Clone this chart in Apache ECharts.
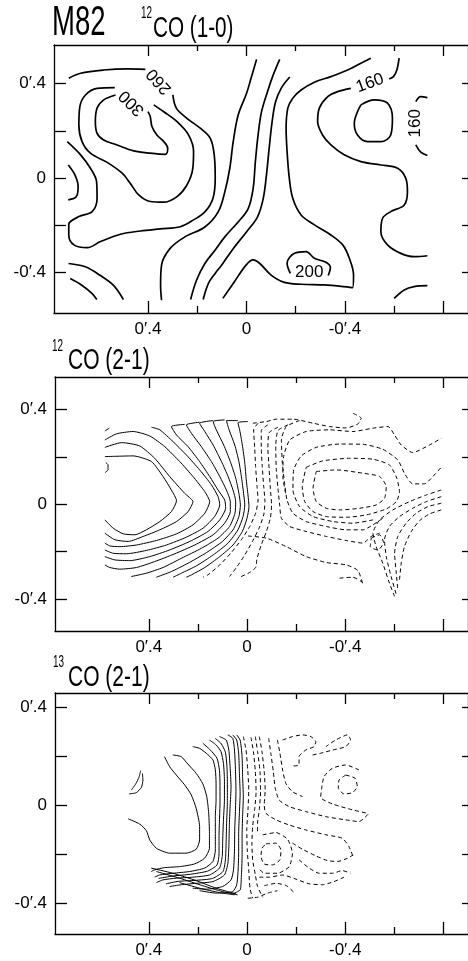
<!DOCTYPE html>
<html><head><meta charset="utf-8">
<style>html,body{margin:0;padding:0;background:#fff}#c{width:468px;height:961px}</style>
<script src="https://cdn.jsdelivr.net/npm/echarts@6/dist/echarts.min.js"></script>
</head><body><div id="c"></div>
<script>
// ---------- axis ticks / labels (arcmin offsets) ----------
const xMajorTicks = [0.4, 0, -0.4, -0.8];
const xMinorTicks = [0.2, -0.2, -0.6];
const xTickLabels = [0.4, 0, -0.4];
const yTicks = [-0.4, -0.2, 0, 0.2, 0.4];
const yTickLabels = [-0.4, 0, 0.4];
const xExtent = [-0.9, 0.782];
const yExtent1 = [-0.573, 0.564];
const yExtent2 = [-0.535, 0.537];
const yExtent3 = [-0.527, 0.457];

// ---------- panel 1: 12CO (1-0) contours ----------
const p1_c260a = [[0.722,0.423],[0.674,0.444],[0.580,0.458],[0.485,0.463],[0.411,0.461]];
const p1_c260b = [[0.299,0.352],[0.285,0.296],[0.242,0.253],[0.188,0.211],[0.147,0.168],[0.131,0.098],[0.127,-0.001],[0.136,-0.086],[0.168,-0.143],[0.215,-0.178],[0.269,-0.207],[0.350,-0.216],[0.431,-0.225],[0.512,-0.239],[0.593,-0.270],[0.647,-0.296],[0.701,-0.284],[0.722,-0.242],[0.722,-0.197],[0.681,-0.164],[0.627,-0.143],[0.607,-0.086],[0.609,-0.016],[0.634,0.041],[0.674,0.098],[0.728,0.154]];
const p1_c280 = [[0.377,0.310],[0.336,0.281],[0.282,0.239],[0.235,0.182],[0.215,0.112],[0.218,0.041],[0.242,-0.030],[0.282,-0.079],[0.336,-0.103],[0.391,-0.100],[0.438,-0.072],[0.472,-0.023],[0.505,0.020],[0.566,0.066],[0.634,0.105],[0.668,0.154],[0.681,0.225],[0.677,0.303],[0.654,0.352],[0.607,0.380],[0.535,0.383]];
const p1_c300 = [[0.400,0.281],[0.391,0.260],[0.384,0.218],[0.364,0.182],[0.336,0.154],[0.320,0.126],[0.330,0.100],[0.391,0.105],[0.458,0.115],[0.526,0.140],[0.580,0.161],[0.607,0.189],[0.614,0.239],[0.607,0.296],[0.580,0.331],[0.532,0.352]];
const p1_arcLeft = [[0.724,0.055],[0.697,0.013],[0.684,-0.037],[0.691,-0.079],[0.724,-0.093]];
const p1_v1 = [[0.345,-0.519],[0.349,-0.455],[0.345,-0.370],[0.311,-0.300],[0.250,-0.250],[0.169,-0.208],[0.115,-0.144],[0.088,-0.059],[0.068,0.040],[0.054,0.153],[0.034,0.266],[0.000,0.358],[-0.020,0.428],[-0.041,0.503]];
const p1_v2 = [[0.227,-0.516],[0.203,-0.434],[0.169,-0.363],[0.128,-0.307],[0.088,-0.250],[0.034,-0.187],[-0.007,-0.130],[-0.027,-0.045],[-0.036,0.068],[-0.047,0.181],[-0.061,0.280],[-0.085,0.365],[-0.108,0.435],[-0.135,0.503]];
const p1_v3 = [[0.176,-0.516],[0.155,-0.448],[0.128,-0.406],[0.101,-0.370],[0.054,-0.300],[0.000,-0.229],[-0.045,-0.165],[-0.068,-0.088],[-0.081,0.011],[-0.092,0.124],[-0.104,0.237],[-0.118,0.322],[-0.142,0.382],[-0.176,0.428]];
const p1_v4 = [[0.096,-0.511],[0.049,-0.440],[0.001,-0.369],[-0.026,-0.348],[-0.053,-0.362],[-0.100,-0.412],[-0.154,-0.443],[-0.222,-0.451],[-0.316,-0.454],[-0.431,-0.465],[-0.435,-0.412],[-0.418,-0.341],[-0.391,-0.284],[-0.343,-0.242],[-0.276,-0.199],[-0.222,-0.157],[-0.188,-0.086],[-0.174,-0.001],[-0.165,0.112],[-0.161,0.211],[-0.168,0.296],[-0.188,0.338],[-0.222,0.373],[-0.276,0.406],[-0.343,0.430],[-0.411,0.458],[-0.465,0.487],[-0.505,0.508]];
const p1_c200 = [[-0.178,-0.405],[-0.165,-0.362],[-0.195,-0.320],[-0.242,-0.313],[-0.276,-0.341],[-0.323,-0.358],[-0.341,-0.380],[-0.332,-0.414]];
const p1_c160top = [[-0.620,0.508],[-0.611,0.458],[-0.597,0.430],[-0.580,0.420]];
const p1_c160 = [[-0.424,0.380],[-0.370,0.366],[-0.330,0.345],[-0.296,0.296],[-0.289,0.239],[-0.309,0.182],[-0.343,0.140],[-0.397,0.098],[-0.465,0.069],[-0.546,0.055],[-0.614,0.041],[-0.647,-0.001],[-0.654,-0.058],[-0.641,-0.115],[-0.586,-0.143],[-0.553,-0.171],[-0.546,-0.228],[-0.573,-0.284],[-0.627,-0.320],[-0.681,-0.334],[-0.735,-0.330]];
const p1_loopRight = [[-0.465,0.310],[-0.519,0.331],[-0.573,0.317],[-0.593,0.253],[-0.586,0.182],[-0.546,0.154],[-0.492,0.154],[-0.451,0.182],[-0.438,0.232],[-0.451,0.281],[-0.465,0.310]];
const p1_arcRightTop = [[-0.735,0.341],[-0.708,0.345],[-0.688,0.324]];
const p1_arcRightBot = [[-0.688,0.140],[-0.708,0.109],[-0.735,0.095]];
const p1_cornerBR = [[-0.600,-0.511],[-0.641,-0.475],[-0.681,-0.461],[-0.735,-0.457]];
const p1_cornerBL1 = [[0.723,-0.363],[0.655,-0.377],[0.595,-0.413],[0.541,-0.455],[0.500,-0.516]];
const p1_cornerBL2 = [[0.716,-0.427],[0.669,-0.455],[0.628,-0.490],[0.608,-0.516]];
const p1_labelPos = [[0.355,0.410],[0.466,0.318],[-0.502,0.402],[-0.686,0.232],[-0.255,-0.402]];
const p1_labelText = ['260', '300', '160', '160', '200'];

// ---------- panel 2: 12CO (2-1) contours ----------
const p2_s0top = [[0.579,0.309],[0.561,0.321]];
const p2_s0 = [[0.575,0.176],[0.566,0.166],[0.566,0.145],[0.578,0.134]];
const p2_s1 = [[0.579,0.201],[0.464,0.204],[0.389,0.180],[0.342,0.117],[0.308,0.060],[0.287,0.015],[0.308,-0.031],[0.355,-0.073],[0.410,-0.108],[0.457,-0.129],[0.504,-0.125],[0.545,-0.101],[0.579,-0.066]];
const p2_s2 = [[0.579,0.240],[0.511,0.260],[0.437,0.246],[0.376,0.194],[0.315,0.117],[0.254,0.046],[0.220,0.011],[0.240,-0.031],[0.287,-0.073],[0.355,-0.108],[0.423,-0.136],[0.484,-0.157],[0.538,-0.150],[0.579,-0.122]];
const p2_s3 = [[0.579,0.271],[0.532,0.297],[0.464,0.307],[0.396,0.288],[0.335,0.243],[0.274,0.180],[0.220,0.117],[0.172,0.053],[0.152,0.011],[0.172,-0.038],[0.220,-0.087],[0.287,-0.125],[0.369,-0.153],[0.450,-0.172],[0.518,-0.179],[0.559,-0.176],[0.579,-0.164]];
const p2_s4 = [[0.389,0.325],[0.355,0.314],[0.301,0.264],[0.247,0.208],[0.193,0.145],[0.145,0.082],[0.118,0.032],[0.111,-0.003],[0.132,-0.052],[0.179,-0.101],[0.247,-0.139],[0.328,-0.172],[0.410,-0.195],[0.491,-0.209],[0.545,-0.207],[0.579,-0.193]];
const p2_s5 = [[0.254,0.337],[0.308,0.328],[0.287,0.292],[0.240,0.243],[0.193,0.180],[0.152,0.117],[0.118,0.060],[0.091,0.018],[0.087,-0.017],[0.111,-0.066],[0.159,-0.115],[0.233,-0.157],[0.315,-0.193],[0.396,-0.221],[0.477,-0.238],[0.538,-0.235],[0.579,-0.221]];
const p2_s6 = [[0.193,0.346],[0.247,0.335],[0.226,0.299],[0.186,0.243],[0.145,0.180],[0.111,0.117],[0.084,0.060],[0.068,0.011],[0.068,-0.031],[0.091,-0.080],[0.138,-0.129],[0.213,-0.172],[0.294,-0.209],[0.376,-0.242],[0.450,-0.267],[0.518,-0.274],[0.559,-0.267],[0.579,-0.256]];
const p2_s7 = [[0.138,0.353],[0.193,0.342],[0.172,0.307],[0.138,0.250],[0.104,0.180],[0.077,0.117],[0.057,0.060],[0.046,0.011],[0.049,-0.038],[0.071,-0.094],[0.118,-0.143],[0.186,-0.186],[0.267,-0.228],[0.342,-0.267],[0.410,-0.291],[0.471,-0.305]];
const p2_s8 = [[0.091,0.356],[0.138,0.349],[0.125,0.314],[0.095,0.250],[0.068,0.180],[0.046,0.110],[0.033,0.046],[0.027,-0.003],[0.033,-0.052],[0.057,-0.108],[0.100,-0.157],[0.165,-0.204],[0.240,-0.249],[0.308,-0.284],[0.369,-0.308]];
const p2_s9 = [[0.037,0.353],[0.084,0.353],[0.073,0.314],[0.050,0.250],[0.033,0.180],[0.022,0.110],[0.014,0.046],[0.009,-0.003],[0.016,-0.052],[0.037,-0.108],[0.077,-0.164],[0.138,-0.214],[0.206,-0.260],[0.267,-0.291],[0.301,-0.308]];
const p2_s10 = [[-0.004,0.349],[0.037,0.344],[0.030,0.314],[0.019,0.250],[0.009,0.173],[0.003,0.103],[-0.004,0.039],[-0.008,-0.010],[0.000,-0.059],[0.019,-0.115],[0.057,-0.172],[0.111,-0.221],[0.172,-0.267],[0.226,-0.298],[0.247,-0.308]];
const p2_a1 = [[-0.045,0.342],[-0.027,0.314],[-0.031,0.243],[-0.035,0.159],[-0.041,0.075],[-0.045,0.018],[-0.035,-0.038],[-0.011,-0.094],[0.023,-0.150],[0.064,-0.204],[0.111,-0.256],[0.159,-0.298],[0.179,-0.308]];
const p2_a2 = [[-0.085,0.335],[-0.058,0.311],[-0.058,0.243],[-0.062,0.159],[-0.068,0.075],[-0.073,0.011],[-0.068,-0.045],[-0.049,-0.101],[-0.022,-0.157],[0.009,-0.214],[0.043,-0.267],[0.071,-0.305]];
const p2_a3 = [[-0.126,0.325],[-0.090,0.302],[-0.085,0.236],[-0.090,0.152],[-0.095,0.067],[-0.100,-0.003],[-0.095,-0.059],[-0.079,-0.115],[-0.058,-0.172],[-0.041,-0.228],[-0.035,-0.267],[-0.011,-0.288],[0.030,-0.308]];
const p2_a4 = [[-0.167,0.335],[-0.126,0.311],[-0.117,0.243],[-0.119,0.152],[-0.126,0.067],[-0.133,-0.003],[-0.140,-0.059],[-0.174,-0.094],[-0.241,-0.115],[-0.323,-0.136],[-0.404,-0.153],[-0.472,-0.164],[-0.506,-0.136],[-0.540,-0.122]];
const p2_a5 = [[-0.214,0.353],[-0.160,0.328],[-0.140,0.271],[-0.144,0.173],[-0.153,0.089],[-0.163,0.018],[-0.187,-0.038],[-0.241,-0.073],[-0.323,-0.094],[-0.404,-0.108],[-0.472,-0.108],[-0.513,-0.087],[-0.553,-0.059]];
const p2_m1 = [[-0.004,-0.134],[-0.079,-0.143],[-0.160,-0.179],[-0.241,-0.221],[-0.323,-0.246],[-0.404,-0.256],[-0.452,-0.280],[-0.472,-0.340]];
const p2_m0 = [[-0.377,-0.312],[-0.431,-0.308],[-0.472,-0.330]];
const p2_t1 = [[-0.024,0.342],[-0.079,0.349],[-0.119,0.359],[-0.187,0.359],[-0.269,0.342],[-0.336,0.328],[-0.404,0.322],[-0.452,0.339],[-0.465,0.363],[-0.431,0.384]];
const p2_r4 = [[-0.157,0.046],[-0.146,0.117],[-0.149,0.201],[-0.174,0.271],[-0.241,0.307],[-0.336,0.314],[-0.431,0.307],[-0.513,0.321],[-0.574,0.328],[-0.601,0.292],[-0.628,0.250],[-0.675,0.218],[-0.743,0.250],[-0.791,0.278]];
const p2_r3 = [[-0.513,-0.066],[-0.431,-0.080],[-0.350,-0.073],[-0.269,-0.052],[-0.214,-0.010],[-0.187,0.060],[-0.190,0.145],[-0.221,0.204],[-0.282,0.240],[-0.377,0.254],[-0.472,0.253],[-0.553,0.232],[-0.614,0.187],[-0.641,0.131],[-0.675,0.086],[-0.723,0.086],[-0.757,0.117],[-0.791,0.156]];
const p2_r2 = [[-0.241,0.156],[-0.309,0.183],[-0.418,0.194],[-0.513,0.190],[-0.580,0.166],[-0.610,0.110],[-0.621,0.053],[-0.608,0.011],[-0.567,-0.020],[-0.486,-0.045],[-0.404,-0.055],[-0.323,-0.052],[-0.269,-0.031],[-0.235,0.011],[-0.225,0.075],[-0.241,0.156]];
const p2_r1 = [[-0.282,0.138],[-0.363,0.145],[-0.472,0.131],[-0.540,0.117],[-0.567,0.075],[-0.560,0.025],[-0.526,-0.003],[-0.458,-0.017],[-0.377,-0.024],[-0.323,-0.017],[-0.282,0.011],[-0.269,0.067],[-0.282,0.138]];
const p2_lr1 = [[-0.791,0.060],[-0.730,0.039],[-0.662,0.011],[-0.594,-0.024],[-0.540,-0.066],[-0.513,-0.122],[-0.526,-0.179],[-0.553,-0.249],[-0.580,-0.333],[-0.601,-0.389]];
const p2_lr2 = [[-0.791,0.032],[-0.730,0.011],[-0.675,-0.017],[-0.621,-0.052],[-0.580,-0.094],[-0.560,-0.150],[-0.567,-0.221],[-0.587,-0.305],[-0.608,-0.382]];
const p2_lr3 = [[-0.791,0.004],[-0.737,-0.010],[-0.689,-0.038],[-0.648,-0.080],[-0.614,-0.136],[-0.601,-0.207],[-0.608,-0.291],[-0.614,-0.361]];
const p2_lr4 = [[-0.791,-0.024],[-0.743,-0.041],[-0.703,-0.069],[-0.669,-0.115],[-0.641,-0.179],[-0.628,-0.249],[-0.621,-0.319]];
const p2_lr6 = [[-0.506,-0.143],[-0.540,-0.129],[-0.556,-0.162],[-0.533,-0.193],[-0.502,-0.179],[-0.506,-0.143]];

// ---------- panel 3: 13CO (2-1) contours ----------
const p3_bra = [[0.471,0.061],[0.453,0.086],[0.440,0.113],[0.433,0.140]];
const p3_brb = [[0.480,0.045],[0.451,0.050],[0.430,0.072],[0.424,0.102],[0.426,0.129]];
const p3_l1 = [[0.484,-0.057],[0.437,-0.078],[0.410,-0.105],[0.396,-0.143],[0.369,-0.177],[0.315,-0.197],[0.248,-0.197],[0.207,-0.181],[0.193,-0.143],[0.193,-0.088],[0.207,-0.014],[0.227,0.041],[0.254,0.082],[0.288,0.122],[0.315,0.156],[0.336,0.197]];
const p3_l2 = [[0.302,0.204],[0.268,0.197],[0.241,0.167],[0.207,0.129],[0.180,0.086],[0.164,0.034],[0.156,-0.034],[0.153,-0.116],[0.153,-0.177],[0.173,-0.218],[0.214,-0.241],[0.275,-0.252],[0.336,-0.256],[0.376,-0.265],[0.390,-0.272]];
const p3_l3 = [[0.221,0.238],[0.193,0.231],[0.166,0.211],[0.139,0.184],[0.129,0.143],[0.126,0.088],[0.126,0.020],[0.129,-0.048],[0.129,-0.116],[0.129,-0.184],[0.139,-0.231],[0.173,-0.258],[0.234,-0.272],[0.302,-0.279],[0.356,-0.286],[0.376,-0.295]];
const p3_l3b = [[0.180,0.252],[0.150,0.225],[0.122,0.190],[0.112,0.140],[0.110,0.080],[0.110,0.010],[0.112,-0.060],[0.114,-0.130],[0.114,-0.200],[0.122,-0.245],[0.160,-0.270],[0.230,-0.283],[0.300,-0.290],[0.360,-0.300]];
const p3_l4 = [[0.153,0.265],[0.126,0.245],[0.106,0.218],[0.096,0.170],[0.092,0.102],[0.092,0.020],[0.096,-0.061],[0.099,-0.143],[0.101,-0.211],[0.112,-0.258],[0.153,-0.286],[0.221,-0.295],[0.288,-0.299],[0.342,-0.306],[0.369,-0.317]];
const p3_l4b = [[0.130,0.272],[0.105,0.250],[0.088,0.215],[0.082,0.160],[0.080,0.090],[0.080,0.010],[0.083,-0.070],[0.085,-0.150],[0.088,-0.225],[0.098,-0.272],[0.140,-0.300],[0.210,-0.308],[0.280,-0.312],[0.330,-0.322]];
const p3_l5 = [[0.112,0.279],[0.085,0.265],[0.074,0.224],[0.069,0.156],[0.065,0.075],[0.069,-0.007],[0.072,-0.088],[0.074,-0.170],[0.078,-0.238],[0.092,-0.286],[0.139,-0.313],[0.207,-0.320],[0.268,-0.326],[0.315,-0.333]];
const p3_l6 = [[0.078,0.286],[0.058,0.272],[0.051,0.224],[0.047,0.143],[0.045,0.061],[0.047,-0.020],[0.050,-0.102],[0.051,-0.184],[0.055,-0.265],[0.065,-0.306],[0.099,-0.333],[0.166,-0.344],[0.221,-0.340]];
const p3_l7 = [[0.058,0.286],[0.042,0.265],[0.034,0.211],[0.031,0.129],[0.028,0.048],[0.031,-0.034],[0.034,-0.116],[0.034,-0.197],[0.037,-0.279],[0.042,-0.326],[0.058,-0.354],[0.126,-0.360],[0.193,-0.350]];
const p3_l8 = [[0.042,0.286],[0.028,0.265],[0.020,0.197],[0.018,0.116],[0.015,0.034],[0.018,-0.048],[0.020,-0.129],[0.020,-0.211],[0.023,-0.292],[0.028,-0.347],[0.058,-0.363]];
const p3_b1 = [[0.275,-0.317],[0.193,-0.340],[0.112,-0.358],[0.051,-0.367]];
const p3_b2 = [[0.390,-0.258],[0.302,-0.279],[0.207,-0.309],[0.126,-0.340],[0.045,-0.363]];
const p3_b3 = [[0.369,-0.272],[0.275,-0.299],[0.180,-0.330],[0.099,-0.354],[0.038,-0.367]];
const p3_q1 = [[0.015,0.279],[0.004,0.224],[-0.003,0.143],[-0.007,0.061],[-0.004,-0.020],[0.001,-0.102],[-0.001,-0.184],[-0.007,-0.265],[-0.012,-0.340],[-0.023,-0.381]];
const p3_q2 = [[-0.016,0.276],[-0.026,0.218],[-0.034,0.136],[-0.037,0.054],[-0.031,-0.020],[-0.023,-0.088],[-0.020,-0.156],[-0.023,-0.224],[-0.034,-0.286],[-0.043,-0.333],[-0.064,-0.377]];
const p3_q2b = [[-0.034,0.279],[-0.043,0.218],[-0.053,0.136],[-0.055,0.054],[-0.050,-0.020],[-0.043,-0.075],[-0.043,-0.116]];
const p3_q3 = [[-0.050,0.279],[-0.061,0.218],[-0.070,0.136],[-0.074,0.061],[-0.070,0.000],[-0.077,-0.034],[-0.118,-0.061],[-0.172,-0.082],[-0.239,-0.102],[-0.321,-0.122],[-0.388,-0.136],[-0.415,-0.170],[-0.432,-0.211]];
const p3_q4 = [[-0.088,0.272],[-0.097,0.211],[-0.107,0.136],[-0.115,0.068],[-0.131,0.020],[-0.172,-0.007],[-0.239,-0.027],[-0.321,-0.048],[-0.402,-0.061],[-0.456,-0.068],[-0.497,-0.034]];
const p3_q5 = [[-0.124,0.265],[-0.134,0.211],[-0.145,0.143],[-0.158,0.088],[-0.185,0.054],[-0.226,0.034]];
const p3_q6 = [[-0.145,0.265],[-0.185,0.279],[-0.226,0.286],[-0.260,0.279],[-0.280,0.258],[-0.273,0.238],[-0.239,0.224],[-0.212,0.197],[-0.212,0.163],[-0.185,0.159]];
const p3_q7 = [[-0.267,0.204],[-0.300,0.211],[-0.348,0.224],[-0.402,0.238],[-0.422,0.265],[-0.409,0.286],[-0.361,0.265],[-0.321,0.238]];
const p3_rOuter = [[-0.456,0.143],[-0.402,0.163],[-0.348,0.150],[-0.314,0.116],[-0.304,0.068],[-0.300,0.031],[-0.348,0.004],[-0.429,-0.020],[-0.490,-0.034]];
const p3_rInner = [[-0.402,0.122],[-0.440,0.109],[-0.449,0.075],[-0.429,0.050],[-0.395,0.045],[-0.372,0.068],[-0.375,0.102],[-0.402,0.122]];
const p3_ll1 = [[-0.077,-0.159],[-0.118,-0.156],[-0.138,-0.184],[-0.134,-0.224],[-0.104,-0.245],[-0.070,-0.241],[-0.057,-0.211],[-0.061,-0.177],[-0.077,-0.159]];
const p3_ll2 = [[-0.064,-0.122],[-0.118,-0.113],[-0.165,-0.140],[-0.185,-0.197],[-0.172,-0.252],[-0.124,-0.279],[-0.070,-0.279],[-0.047,-0.258]];
const p3_ma = [[-0.185,-0.156],[-0.226,-0.181],[-0.280,-0.208],[-0.327,-0.227],[-0.368,-0.231],[-0.409,-0.218],[-0.432,-0.204]];
const p3_mb = [[-0.212,-0.224],[-0.253,-0.258],[-0.294,-0.279],[-0.348,-0.279],[-0.388,-0.268],[-0.422,-0.279]];
const p3_mc = [[-0.050,-0.295],[-0.091,-0.295],[-0.145,-0.286],[-0.199,-0.303],[-0.253,-0.322],[-0.307,-0.326],[-0.354,-0.313],[-0.395,-0.295]];
const p3_md = [[-0.070,-0.330],[-0.118,-0.320],[-0.161,-0.330],[-0.192,-0.358]];
const p3_me = [[-0.003,-0.381],[-0.043,-0.377],[-0.084,-0.360],[-0.124,-0.350]];

// ---------- groups ----------
const panel1Lines = [p1_c260a,p1_c260b,p1_c280,p1_c300,p1_arcLeft,p1_v1,p1_v2,p1_v3,p1_v4,p1_c200,p1_c160top,p1_c160,p1_loopRight,p1_arcRightTop,p1_arcRightBot,p1_cornerBR,p1_cornerBL1,p1_cornerBL2];
const panel2Solid = [p2_s0top,p2_s0,p2_s1,p2_s2,p2_s3,p2_s4,p2_s5,p2_s6,p2_s7,p2_s8,p2_s9,p2_s10];
const panel2Dashed = [p2_a1,p2_a2,p2_a3,p2_a4,p2_a5,p2_m1,p2_m0,p2_t1,p2_r4,p2_r3,p2_r2,p2_r1,p2_lr1,p2_lr2,p2_lr3,p2_lr4,p2_lr6];
const panel3Solid = [p3_bra,p3_brb,p3_l1,p3_l2,p3_l3,p3_l3b,p3_l4,p3_l4b,p3_l5,p3_l6,p3_l7,p3_l8,p3_b1,p3_b2,p3_b3];
const panel3Dashed = [p3_q1,p3_q2,p3_q2b,p3_q3,p3_q4,p3_q5,p3_q6,p3_q7,p3_rOuter,p3_rInner,p3_ll1,p3_ll2,p3_ma,p3_mb,p3_mc,p3_md,p3_me];

// ---------- chart ----------
const FONT = "'Liberation Sans Narrow', 'Liberation Sans', Arial, sans-serif";
const TFONT = '"Liberation Sans", Arial, sans-serif';
const AXC = {color: '#000', width: 1.3};
const labelRotations = [132, 135, 20, 90, 0];

function fmt(v) {
  if (Math.abs(v) < 1e-9) return '0';
  return (v < 0 ? '-' : '') + '0\u2032.' + Math.round(Math.abs(v) * 10);
}

const grids = [
  {left: 54, top: 45, width: 415, height: 268},
  {left: 55, top: 377, width: 414, height: 254},
  {left: 55, top: 693, width: 414, height: 241}
];
const yExtents = [yExtent1, yExtent2, yExtent3];
const xAxes = [], yAxes = [];
grids.forEach((g, i) => {
  const base = {gridIndex: i, type: 'value', min: xExtent[0], max: xExtent[1], inverse: true, splitLine: {show: false}};
  xAxes.push(Object.assign({}, base, {position: 'bottom',
    axisLine: {show: true, onZero: false, lineStyle: AXC},
    axisTick: {show: true, inside: true, length: 12, customValues: xMajorTicks, lineStyle: AXC},
    axisLabel: {show: true, customValues: xTickLabels, formatter: fmt, margin: 8, fontSize: 17, fontFamily: FONT, color: '#000'}}));
  xAxes.push(Object.assign({}, base, {position: 'bottom',
    axisLine: {show: false, onZero: false},
    axisTick: {show: true, inside: true, length: 7, customValues: xMinorTicks, lineStyle: AXC},
    axisLabel: {show: false}}));
  xAxes.push(Object.assign({}, base, {position: 'top',
    axisLine: {show: true, onZero: false, lineStyle: AXC},
    axisTick: {show: true, inside: true, length: 11, customValues: xMajorTicks, lineStyle: AXC},
    axisLabel: {show: false}}));
  xAxes.push(Object.assign({}, base, {position: 'top',
    axisLine: {show: false, onZero: false},
    axisTick: {show: true, inside: true, length: 6, customValues: xMinorTicks, lineStyle: AXC},
    axisLabel: {show: false}}));
  const yb = {gridIndex: i, type: 'value', min: yExtents[i][0], max: yExtents[i][1], splitLine: {show: false}};
  yAxes.push(Object.assign({}, yb, {position: 'left',
    axisLine: {show: true, onZero: false, lineStyle: AXC},
    axisTick: {show: true, inside: true, length: 12, customValues: yTicks, lineStyle: AXC},
    axisLabel: {show: true, customValues: yTickLabels, formatter: fmt, margin: 8, fontSize: 17, fontFamily: FONT, color: '#000'}}));
  yAxes.push(Object.assign({}, yb, {position: 'right',
    axisLine: {show: true, onZero: false, lineStyle: AXC},
    axisTick: {show: true, inside: true, length: 6, customValues: yTicks, lineStyle: AXC},
    axisLabel: {show: false}}));
});

const series = [];
function addLines(list, panel, dashed, width, smooth) {
  list.forEach(d => series.push({
    type: 'line', xAxisIndex: panel * 4, yAxisIndex: panel * 2, data: d,
    symbol: 'none', showSymbol: false, smooth: smooth, silent: true,
    lineStyle: {color: '#000', width: width, type: dashed ? [4, 3] : 'solid'}
  }));
}
addLines(panel1Lines, 0, false, 1.7, 0.35);
addLines(panel2Solid, 1, false, 1.0, 0.2);
addLines(panel2Dashed, 1, true, 1.0, 0.2);
addLines(panel3Solid, 2, false, 1.0, 0.2);
addLines(panel3Dashed, 2, true, 1.0, 0.2);
series.push({
  type: 'scatter', xAxisIndex: 0, yAxisIndex: 0, symbolSize: 1, silent: true,
  itemStyle: {color: 'rgba(0,0,0,0)'},
  data: p1_labelPos.map((p, k) => ({value: p, label: {show: true, position: 'inside', formatter: p1_labelText[k],
    rotate: labelRotations[k], fontSize: 17, fontFamily: FONT, color: '#000', opacity: 1}}))
});

function txt(x, y, s, size, sx) {
  return {type: 'text', x: x, y: y, scaleX: sx, scaleY: 1,
    style: {text: s, font: size + 'px ' + TFONT, fill: '#000', textAlign: 'left', textVerticalAlign: 'middle', align: 'left', verticalAlign: 'middle'}};
}
const graphic = [
  txt(52, 23, 'M82', 43, 0.64),
  txt(141, 14, '12', 16, 0.62),
  txt(153, 28.5, 'CO (1-0)', 30, 0.69),
  txt(52, 347, '12', 16, 0.62),
  txt(68, 361, 'CO (2-1)', 30, 0.70),
  txt(53, 663, '13', 16, 0.62),
  txt(68, 677.5, 'CO (2-1)', 30, 0.70)
];

const chart = echarts.init(document.getElementById('c'), null, {renderer: 'canvas', width: 468, height: 961});
chart.setOption({
  animation: false,
  backgroundColor: '#fff',
  grid: grids,
  xAxis: xAxes,
  yAxis: yAxes,
  series: series,
  graphic: graphic
});
</script></body></html>
